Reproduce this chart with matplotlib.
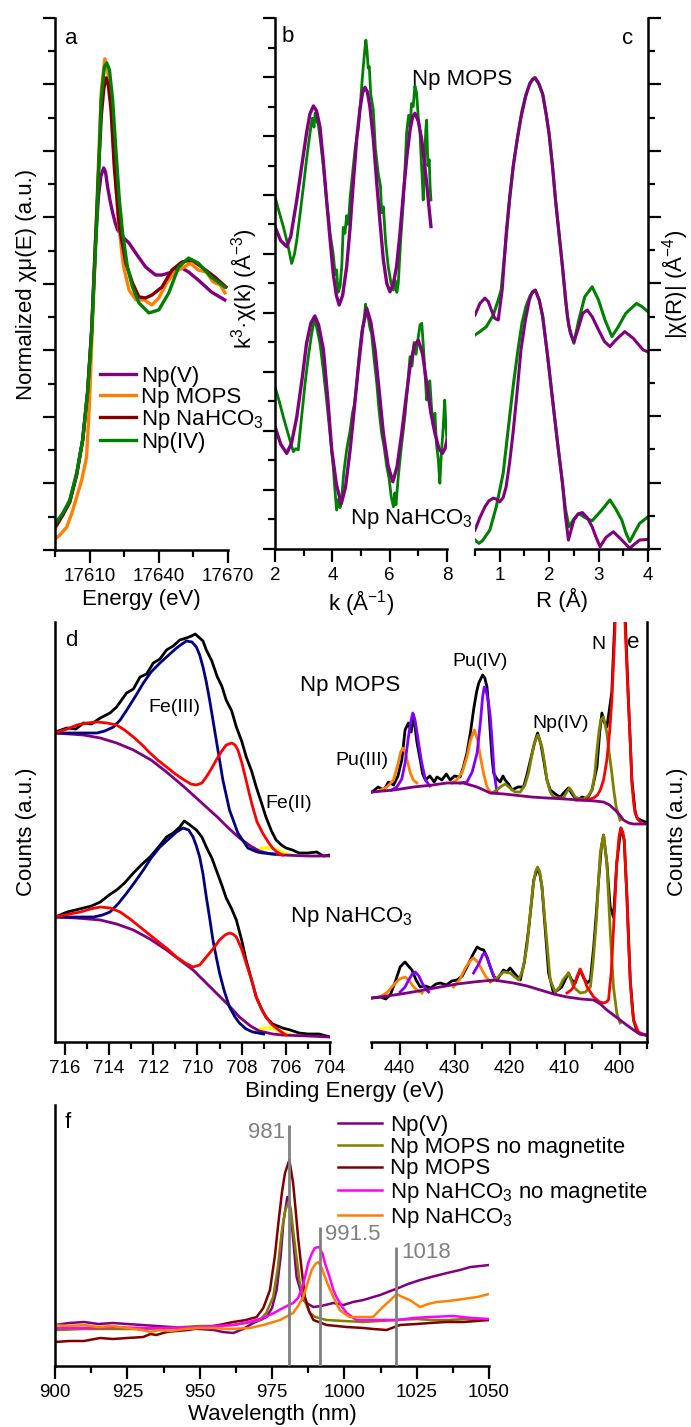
import matplotlib
matplotlib.use('Agg')
import matplotlib.pyplot as plt
from matplotlib.ticker import MultipleLocator

plt.rcParams['font.family'] = ['Liberation Sans', 'DejaVu Sans']
plt.rcParams['mathtext.fontset'] = 'custom'
plt.rcParams['mathtext.rm'] = 'Liberation Sans'
plt.rcParams['mathtext.it'] = 'Liberation Sans:italic'
plt.rcParams['mathtext.default'] = 'regular'
plt.rcParams['font.size'] = 16

W, H = 691, 1427

PURPLE = '#800080'
ORANGE = '#ff8000'
DKRED = '#800000'
GREEN = '#008000'
OLIVE = '#808000'
MAGENTA = '#ff00ff'
NAVY = '#000080'
RED = '#ff0000'
VIOLET = '#8000ff'
YELLOW = '#ffff00'
GRAY = '#808080'

# ---------------- panel a : XANES ----------------
a_npv_E = [17595.0, 17598.4, 17601.4, 17604.4, 17607.0, 17609.1, 17610.9, 17612.6, 17613.9, 17614.9,
           17616.1, 17616.9, 17617.8, 17618.8, 17620.0, 17621.1, 17622.1, 17624.3, 17627.1, 17630.0,
           17634.3, 17638.6, 17641.4, 17645.7, 17650.0, 17652.9, 17657.1, 17662.8, 17668.6]
a_npv = [0.072, 0.108, 0.147, 0.229, 0.331, 0.472, 0.662, 0.933, 1.068, 1.125,
         1.149, 1.137, 1.092, 1.053, 1.014, 0.984, 0.963, 0.942, 0.923, 0.893,
         0.851, 0.827, 0.827, 0.836, 0.848, 0.836, 0.812, 0.776, 0.752]
a_mops_E = [17595.0, 17597.1, 17600.1, 17602.3, 17604.4, 17606.6, 17608.7, 17610.0, 17611.3, 17612.6,
            17613.9, 17615.1, 17616.6, 17617.7, 17619.0, 17620.7, 17622.4, 17624.6, 17627.1, 17630.1,
            17633.6, 17637.0, 17640.0, 17643.4, 17646.9, 17650.3, 17653.7, 17657.1, 17660.6, 17663.6,
            17666.6, 17668.7]
a_mops = [0.033, 0.045, 0.069, 0.111, 0.159, 0.211, 0.280, 0.451, 0.692, 0.933,
          1.173, 1.384, 1.477, 1.450, 1.369, 1.173, 0.993, 0.857, 0.782, 0.752,
          0.752, 0.737, 0.758, 0.803, 0.836, 0.848, 0.863, 0.842, 0.836, 0.806,
          0.797, 0.773]
a_nahco3_E = [17595.0, 17598.4, 17601.4, 17604.4, 17607.0, 17609.1, 17610.9, 17612.6, 17613.9, 17615.1,
              17616.2, 17617.2, 17618.1, 17619.3, 17620.7, 17622.9, 17625.7, 17628.6, 17631.4, 17634.3,
              17637.1, 17641.4, 17645.7, 17650.0, 17654.3, 17658.6, 17664.3, 17669.1]
a_nahco3 = [0.066, 0.105, 0.144, 0.226, 0.331, 0.472, 0.662, 0.933, 1.143, 1.308,
            1.390, 1.420, 1.399, 1.324, 1.152, 0.972, 0.863, 0.803, 0.761, 0.758,
            0.767, 0.791, 0.842, 0.866, 0.872, 0.851, 0.821, 0.791]
a_npiv_E = [17595.0, 17598.4, 17601.4, 17604.4, 17607.0, 17609.1, 17610.9, 17612.9, 17614.0, 17615.0,
            17616.4, 17617.4, 17618.6, 17620.0, 17621.4, 17622.9, 17624.3, 17626.4, 17628.6, 17631.4,
            17635.7, 17640.0, 17644.3, 17648.6, 17652.9, 17657.1, 17662.7, 17668.6]
a_npiv = [0.078, 0.111, 0.150, 0.232, 0.331, 0.472, 0.653, 0.954, 1.152, 1.354,
          1.453, 1.465, 1.444, 1.354, 1.203, 1.053, 0.954, 0.851, 0.791, 0.743,
          0.713, 0.722, 0.773, 0.851, 0.878, 0.863, 0.821, 0.791]
a_labels = ['Np(V)', 'Np MOPS', 'Np NaHCO$_3$', 'Np(IV)']

# ---------------- panel b : k3 chi(k) ----------------
b_mops_fit_k = [2.0, 2.2, 2.41, 2.55, 2.76, 2.95, 3.10, 3.22, 3.34, 3.45, 3.57, 3.68, 3.80, 3.92, 4.03, 4.14,
                4.24, 4.36, 4.50, 4.62, 4.73, 4.85, 4.96, 5.05, 5.14, 5.22, 5.31, 5.43, 5.55, 5.67, 5.78,
                5.90, 6.01, 6.12, 6.24, 6.36, 6.48, 6.60, 6.71, 6.80, 6.88, 7.00, 7.12, 7.20, 7.29, 7.37, 7.44]
b_mops_fit = [10.92, 10.45, 10.25, 10.6, 11.83, 13.1, 14.1, 14.75, 15.02, 14.85, 14.3, 13.2, 11.83, 10.5,
              9.35, 8.6, 8.27, 8.6, 9.57, 10.9, 12.4, 13.9, 14.88, 15.45, 15.65, 15.5, 15.0, 13.9, 12.4,
              11.0, 9.8, 9.0, 8.72, 8.95, 9.57, 10.7, 12.07, 13.3, 14.2, 14.65, 14.77, 14.5, 13.86, 13.2,
              12.4, 11.6, 10.93]
b_mops_dat_k = [2.0, 2.15, 2.29, 2.45, 2.58, 2.68, 2.76, 2.88, 2.99, 3.10, 3.22, 3.30, 3.36, 3.40, 3.46,
                3.51, 3.60, 3.69, 3.80, 3.92, 4.03, 4.10, 4.15, 4.20, 4.27, 4.33, 4.38, 4.44, 4.50, 4.56,
                4.62, 4.73, 4.80, 4.91, 4.98, 5.04, 5.08, 5.13, 5.17, 5.21, 5.25, 5.29, 5.34, 5.43, 5.50,
                5.60, 5.68, 5.72, 5.78, 5.86, 5.95, 6.05, 6.13, 6.20, 6.25, 6.30, 6.38, 6.48, 6.55, 6.59,
                6.66, 6.72, 6.76, 6.82, 6.88, 6.94, 7.00, 7.06, 7.10, 7.14, 7.17, 7.22, 7.26, 7.29, 7.33,
                7.38, 7.41, 7.44]
b_mops_dat = [11.94, 11.4, 10.93, 10.3, 9.68, 10.0, 10.47, 11.4, 12.28, 13.2, 14.1, 14.6, 14.3, 14.78,
              14.5, 14.4, 13.7, 12.96, 11.8, 10.7, 10.0, 9.3, 9.46, 8.7, 8.9, 9.6, 10.9, 10.7, 11.3, 11.0,
              11.9, 12.96, 13.6, 14.3, 15.1, 15.9, 16.35, 16.9, 17.25, 16.9, 16.3, 16.35, 15.4, 14.88,
              13.6, 12.73, 12.3, 11.4, 11.6, 10.4, 9.57, 9.0, 8.78, 9.1, 8.7, 9.0, 10.4, 11.83, 13.2,
              14.1, 14.7, 14.3, 15.1, 15.0, 15.7, 15.45, 14.6, 14.1, 13.2, 12.5, 11.83, 13.3, 14.2,
              14.54, 13.0, 13.2, 12.3, 11.83]
b_nahco3_fit_k = [2.0, 2.2, 2.41, 2.58, 2.76, 2.95, 3.10, 3.25, 3.39, 3.52, 3.69, 3.84, 3.98, 4.14, 4.31,
                  4.46, 4.62, 4.77, 4.91, 5.06, 5.20, 5.34, 5.49, 5.64, 5.78, 5.95, 6.11, 6.26, 6.42, 6.57,
                  6.71, 6.86, 7.00, 7.15, 7.29, 7.44, 7.58, 7.72, 7.84, 7.93, 8.0]
b_nahco3_fit = [4.15, 3.55, 3.24, 3.6, 4.48, 5.8, 6.97, 7.65, 7.9, 7.6, 6.75, 5.1, 3.36, 2.2, 1.53, 2.1,
                3.36, 4.8, 6.18, 7.5, 8.16, 7.7, 6.75, 5.3, 3.92, 2.8, 2.28, 2.8, 3.92, 5.1, 6.18, 6.9,
                7.08, 6.6, 5.62, 4.6, 3.92, 3.4, 3.24, 3.4, 3.69]
b_nahco3_dat_k = [2.0, 2.15, 2.29, 2.40, 2.52, 2.64, 2.72, 2.81, 2.92, 3.05, 3.16, 3.28, 3.34, 3.40, 3.48,
                  3.57, 3.68, 3.80, 3.92, 4.03, 4.09, 4.15, 4.22, 4.27, 4.32, 4.40, 4.50, 4.56, 4.62, 4.70,
                  4.77, 4.85, 4.94, 5.02, 5.10, 5.16, 5.20, 5.26, 5.31, 5.37, 5.45, 5.55, 5.63, 5.72, 5.80,
                  5.90, 5.98, 6.05, 6.13, 6.18, 6.22, 6.30, 6.40, 6.53, 6.62, 6.71, 6.78, 6.85, 6.92, 7.00,
                  7.06, 7.12, 7.18, 7.23, 7.29, 7.35, 7.40, 7.46, 7.52, 7.58, 7.63, 7.70, 7.75, 7.80, 7.86,
                  7.92, 7.96, 8.0]
b_nahco3_dat = [5.5, 5.0, 4.48, 4.1, 3.69, 3.3, 3.4, 3.36, 4.4, 5.62, 6.5, 7.31, 7.6, 7.76, 7.4, 6.97,
                6.1, 5.05, 3.9, 2.79, 2.0, 1.32, 1.7, 1.4, 1.66, 2.6, 3.36, 3.7, 4.0, 4.6, 4.9, 5.62, 6.6,
                7.31, 7.7, 8.3, 8.0, 7.8, 7.5, 7.31, 6.5, 5.62, 4.7, 3.92, 3.5, 2.79, 2.4, 1.8, 1.43, 1.9,
                1.5, 2.45, 3.4, 4.48, 5.5, 6.52, 6.2, 7.0, 6.6, 7.2, 7.6, 7.65, 6.8, 6.0, 5.05, 5.5, 5.7,
                4.8, 4.2, 4.6, 3.58, 3.0, 2.23, 3.2, 4.0, 5.05, 4.2, 3.69]

# ---------------- panel c : |chi(R)| ----------------
c_mops_fit_R = [0.50, 0.60, 0.70, 0.77, 0.83, 0.90, 0.97, 1.05, 1.13, 1.20, 1.27, 1.35, 1.43, 1.52, 1.60,
                1.66, 1.72, 1.80, 1.87, 1.94, 2.0, 2.07, 2.13, 2.20, 2.27, 2.33, 2.37, 2.43, 2.50, 2.58,
                2.68, 2.77, 2.87, 3.0, 3.12, 3.23, 3.35, 3.53, 3.70, 3.90, 4.0]
c_mops_fit = [7.05, 7.4, 7.56, 7.45, 7.2, 6.95, 6.9, 7.8, 9.5, 10.6, 11.5, 12.3, 13.0, 13.6, 14.0, 14.15,
              14.2, 14.0, 13.7, 13.1, 12.5, 11.5, 10.5, 9.5, 8.5, 7.6, 7.0, 6.5, 6.24, 6.6, 7.1, 7.2, 7.0,
              6.6, 6.25, 6.1, 6.3, 6.55, 6.35, 6.0, 5.94]
c_mops_dat_R = [0.50, 0.60, 0.73, 0.87, 0.97, 1.03, 1.12, 1.20, 1.28, 1.37, 1.45, 1.53, 1.62, 1.70, 1.78,
                1.87, 1.94, 2.0, 2.07, 2.13, 2.20, 2.27, 2.33, 2.40, 2.50, 2.60, 2.72, 2.87, 3.0, 3.13,
                3.27, 3.40, 3.55, 3.73, 3.77, 3.88, 4.0]
c_mops_dat = [6.45, 6.55, 6.7, 7.05, 7.5, 7.8, 9.2, 10.5, 11.6, 12.5, 13.2, 13.7, 14.05, 14.2, 14.05,
              13.7, 13.1, 12.5, 11.5, 10.5, 9.5, 8.5, 7.5, 6.7, 6.2, 6.9, 7.6, 7.9, 7.5, 6.9, 6.4, 6.7,
              7.1, 7.35, 7.4, 7.3, 7.15]
c_nahco3_fit_R = [0.50, 0.60, 0.70, 0.78, 0.87, 0.94, 1.0, 1.07, 1.13, 1.20, 1.27, 1.35, 1.43, 1.52, 1.60,
                  1.66, 1.72, 1.80, 1.87, 1.97, 2.07, 2.17, 2.27, 2.33, 2.39, 2.45, 2.50, 2.58, 2.67, 2.77,
                  2.87, 2.95, 3.03, 3.15, 3.30, 3.45, 3.63, 3.73, 3.83, 4.0]
c_nahco3_fit = [0.57, 0.95, 1.27, 1.45, 1.53, 1.5, 1.42, 1.55, 1.88, 2.6, 3.5, 4.7, 6.0, 6.9, 7.5, 7.75,
                7.8, 7.5, 7.0, 5.8, 4.49, 3.2, 1.98, 1.0, 0.27, 0.6, 0.87, 1.05, 1.1, 0.95, 0.67, 0.35,
                0.07, 0.35, 0.52, 0.3, 0.02, 0.15, 0.27, 0.29]
c_nahco3_dat_R = [0.50, 0.58, 0.65, 0.80, 0.93, 1.07, 1.20, 1.28, 1.37, 1.45, 1.53, 1.62, 1.72, 1.80, 1.87,
                  1.97, 2.07, 2.17, 2.27, 2.33, 2.40, 2.50, 2.60, 2.72, 2.87, 3.05, 3.23, 3.35, 3.47, 3.55,
                  3.63, 3.73, 3.83, 4.0]
c_nahco3_dat = [0.27, 0.17, 0.25, 0.57, 1.27, 2.28, 3.98, 5.0, 6.0, 6.8, 7.3, 7.65, 7.8, 7.5, 7.0, 5.8,
                4.49, 3.2, 1.98, 1.2, 0.67, 0.9, 1.07, 0.95, 0.85, 1.15, 1.48, 1.2, 0.87, 0.5, 0.22, 0.5,
                0.77, 0.97]

# ---------------- panel d : Fe 2p XPS ----------------
d_mops_dat_BE = [716.44, 715.91, 715.5, 715.16, 714.8, 714.4, 713.96, 713.66, 713.21, 712.9, 712.6, 712.3,
                 712.0, 711.7, 711.4, 711.1, 710.8, 710.5, 710.27, 710.1, 709.9, 709.75, 709.6, 709.35,
                 709.1, 708.9, 708.7, 708.45, 708.24, 708.0, 707.79, 707.55, 707.34, 707.1, 706.9, 706.65,
                 706.44, 706.2, 705.99, 705.7, 705.4, 705.0, 704.6, 704.3, 704.0]
d_mops_dat = [3.10, 3.14, 3.13, 3.19, 3.18, 3.24, 3.29, 3.35, 3.49, 3.53, 3.65, 3.68, 3.79, 3.83, 3.92,
              3.96, 4.02, 4.04, 4.06, 4.08, 4.04, 4.01, 3.92, 3.81, 3.65, 3.56, 3.42, 3.31, 3.15, 3.01,
              2.85, 2.71, 2.55, 2.39, 2.25, 2.11, 2.02, 1.97, 1.94, 1.92, 1.89, 1.89, 1.90, 1.86, 1.87]
d_mops_bkg_BE = [716.44, 715.16, 714.4, 713.66, 712.9, 712.1, 711.4, 710.6, 709.85, 709.1, 708.6, 708.1,
                 707.6, 707.2, 706.7, 706.15, 705.0, 704.0]
d_mops_bkg = [3.09, 3.07, 3.04, 2.99, 2.92, 2.82, 2.70, 2.55, 2.40, 2.25, 2.14, 2.04, 1.96, 1.91, 1.88,
              1.87, 1.86, 1.86]
d_mops_fe3_BE = [716.44, 715.5, 714.55, 714.2, 713.8, 713.5, 713.2, 712.8, 712.45, 712.1, 711.7, 711.3,
                 710.95, 710.7, 710.5, 710.25, 710.05, 709.9, 709.75, 709.6, 709.45, 709.3, 709.15, 709.0,
                 708.85, 708.55, 708.17, 707.72, 707.3, 707.05, 706.5]
d_mops_fe3 = [3.09, 3.09, 3.09, 3.11, 3.15, 3.22, 3.32, 3.46, 3.59, 3.70, 3.79, 3.87, 3.94, 3.98, 4.01,
              4.0, 3.95, 3.87, 3.75, 3.60, 3.42, 3.22, 3.02, 2.82, 2.62, 2.32, 2.09, 1.94, 1.90, 1.89, 1.88]
d_mops_fe2_BE = [716.44, 715.9, 715.46, 715.0, 714.55, 714.1, 713.66, 713.3, 712.9, 712.5, 712.15, 711.8,
                 711.4, 711.0, 710.6, 710.3, 710.05, 709.8, 709.6, 709.35, 709.15, 708.9, 708.7, 708.45,
                 708.3, 708.17, 708.0, 707.8, 707.65, 707.5, 707.3, 707.05, 706.8, 706.6, 706.4, 706.15]
d_mops_fe2 = [3.09, 3.13, 3.17, 3.19, 3.20, 3.19, 3.17, 3.12, 3.05, 2.97, 2.89, 2.82, 2.75, 2.68, 2.62,
              2.58, 2.57, 2.59, 2.65, 2.74, 2.82, 2.91, 2.97, 2.99, 2.97, 2.92, 2.80, 2.62, 2.48, 2.35,
              2.20, 2.09, 2.00, 1.94, 1.90, 1.87]
d_mops_sat_BE = [707.4, 707.0, 706.6, 706.2, 705.8]
d_mops_sat = [1.92, 1.94, 1.94, 1.90, 1.87]

d_nahco3_dat_BE = [716.44, 715.9, 715.16, 714.8, 714.4, 714.0, 713.66, 713.3, 712.9, 712.5, 712.15, 711.8,
                   711.4, 711.1, 710.8, 710.6, 710.4, 710.05, 709.8, 709.6, 709.35, 709.15, 708.9, 708.7,
                   708.45, 708.24, 708.0, 707.8, 707.55, 707.34, 707.1, 706.9, 706.6, 706.15, 705.8, 705.4,
                   705.0, 704.5, 704.0]
d_nahco3_dat = [1.25, 1.30, 1.34, 1.36, 1.40, 1.47, 1.52, 1.59, 1.69, 1.78, 1.85, 1.94, 2.05, 2.09, 2.15,
                2.21, 2.18, 2.12, 2.05, 1.95, 1.84, 1.72, 1.57, 1.44, 1.33, 1.22, 1.02, 0.82, 0.62, 0.45,
                0.33, 0.25, 0.18, 0.14, 0.12, 0.09, 0.08, 0.08, 0.05]
d_nahco3_bkg_BE = [716.44, 715.5, 714.4, 713.66, 712.9, 712.15, 711.4, 710.8, 710.2, 709.65, 709.15, 708.6,
                   708.1, 707.6, 707.2, 706.6, 706.15, 705.0, 704.0]
d_nahco3_bkg = [1.25, 1.24, 1.22, 1.18, 1.12, 1.03, 0.92, 0.82, 0.72, 0.60, 0.49, 0.37, 0.25, 0.16, 0.11,
                0.08, 0.07, 0.06, 0.05]
d_nahco3_fe3_BE = [716.44, 715.5, 714.7, 714.3, 713.96, 713.6, 713.2, 712.8, 712.45, 712.1, 711.7, 711.3,
                   710.95, 710.65, 710.4, 710.2, 710.05, 709.9, 709.75, 709.6, 709.45, 709.3, 709.15, 709.0,
                   708.8, 708.55, 708.3, 708.1, 707.8, 707.5, 707.0]
d_nahco3_fe3 = [1.25, 1.25, 1.25, 1.27, 1.30, 1.38, 1.49, 1.61, 1.72, 1.84, 1.95, 2.03, 2.10, 2.14, 2.12,
                2.05, 1.96, 1.85, 1.68, 1.45, 1.24, 1.02, 0.85, 0.69, 0.52, 0.35, 0.25, 0.19, 0.13, 0.10,
                0.08]
d_nahco3_fe2_BE = [716.44, 715.8, 715.3, 714.85, 714.4, 713.95, 713.5, 713.05, 712.6, 712.15, 711.7, 711.3,
                   710.95, 710.55, 710.2, 709.9, 709.6, 709.3, 709.0, 708.75, 708.55, 708.4, 708.24, 708.0,
                   707.8, 707.55, 707.34, 707.1, 706.9, 706.65, 706.44, 706.2, 705.99]
d_nahco3_fe2 = [1.25, 1.28, 1.30, 1.33, 1.35, 1.34, 1.30, 1.23, 1.15, 1.07, 0.99, 0.92, 0.85, 0.79, 0.75,
                0.77, 0.85, 0.93, 1.02, 1.07, 1.09, 1.08, 1.05, 0.93, 0.79, 0.62, 0.45, 0.33, 0.25, 0.18,
                0.14, 0.10, 0.07]
d_nahco3_sat_BE = [707.4, 707.0, 706.6, 706.2, 705.8]
d_nahco3_sat = [0.11, 0.14, 0.14, 0.10, 0.07]

# ---------------- panel e : Np 4f / Pu 4f XPS ----------------
e_mops_bkg_BE = [445.0, 441.0, 437.45, 434.0, 431.4, 428.4, 425.9, 423.5, 421.0, 419.3, 416.0, 413.2,
                 410.0, 407.15, 404.5, 402.9, 401.8, 400.8, 399.8, 399.3, 398.3, 397.45, 396.0, 395.3]
e_mops_bkg = [2.50, 2.52, 2.55, 2.57, 2.59, 2.59, 2.55, 2.49, 2.48, 2.47, 2.45, 2.44, 2.43, 2.42, 2.41,
              2.40, 2.37, 2.32, 2.26, 2.22, 2.19, 2.18, 2.18, 2.18]
e_mops_dat_BE = [445.0, 443.9, 442.9, 442.0, 441.1, 440.3, 439.6, 439.0, 438.4, 437.9, 437.45, 436.85,
                 436.25, 435.8, 435.3, 434.5, 433.7, 433.2, 432.3, 431.5, 430.8, 430.0, 429.0, 428.4,
                 427.75, 427.1, 426.55, 426.0, 425.6, 424.9, 424.5, 424.1, 423.8, 423.5, 423.2, 422.9,
                 422.3, 421.7, 421.2, 420.8, 420.2, 419.55, 418.5, 417.45, 416.8, 416.2, 415.5, 414.9,
                 414.3, 413.8, 413.2, 412.6, 411.7, 410.8, 410.0, 409.3, 408.5, 407.75, 406.8, 405.9,
                 405.0, 404.1, 403.6, 403.2, 402.8, 402.3, 401.9, 401.4, 400.8, 399.8, 399.0, 398.4,
                 397.75, 397.15, 396.8, 396.2, 395.3]
e_mops_dat = [2.50, 2.55, 2.52, 2.60, 2.57, 2.66, 2.82, 3.12, 3.19, 3.10, 3.27, 3.00, 2.82, 2.68, 2.62,
              2.66, 2.60, 2.65, 2.62, 2.68, 2.62, 2.66, 2.65, 2.75, 2.89, 3.10, 3.32, 3.50, 3.59, 3.67,
              3.64, 3.55, 3.35, 3.09, 2.85, 2.69, 2.63, 2.60, 2.66, 2.62, 2.58, 2.52, 2.55, 2.55, 2.68,
              2.82, 2.98, 3.09, 2.98, 2.82, 2.62, 2.52, 2.48, 2.45, 2.50, 2.54, 2.47, 2.42, 2.45, 2.43,
              2.52, 2.75, 3.10, 3.29, 3.20, 3.15, 3.30, 3.50, 4.30, 6.00, 4.30, 3.45, 2.62, 2.30, 2.24,
              2.22, 2.20]
e_mops_pu3a_BE = [443.5, 442.3, 441.1, 440.3, 439.8, 439.4, 439.0, 438.5, 438.05, 437.5, 436.85]
e_mops_pu3a = [2.52, 2.55, 2.62, 2.78, 2.90, 2.94, 2.90, 2.79, 2.69, 2.62, 2.59]
e_mops_pu4a_BE = [441.5, 440.5, 439.6, 439.0, 438.4, 437.9, 437.6, 437.2, 436.9, 436.55, 436.0, 435.3, 434.5]
e_mops_pu4a = [2.52, 2.55, 2.63, 2.79, 3.05, 3.22, 3.29, 3.22, 3.12, 2.99, 2.80, 2.62, 2.56]
e_mops_pu3b_BE = [430.5, 429.6, 428.6, 427.75, 427.1, 426.4, 425.8, 425.3, 424.7, 424.1, 423.5]
e_mops_pu3b = [2.59, 2.62, 2.70, 2.85, 3.02, 3.12, 3.02, 2.85, 2.68, 2.55, 2.50]
e_mops_pu4b_BE = [429.0, 427.75, 426.8, 425.9, 425.3, 424.9, 424.6, 424.2, 423.8, 423.5, 423.1, 422.8, 422.3]
e_mops_pu4b = [2.59, 2.60, 2.70, 2.89, 3.20, 3.45, 3.55, 3.50, 3.38, 3.25, 2.95, 2.69, 2.50]
e_mops_np_BE = [423.2, 422.3, 421.7, 420.8, 419.9, 419.0, 418.05, 417.2, 416.55, 416.0, 415.5, 414.85,
                414.1, 413.6, 413.2, 412.6, 412.0, 411.0, 410.2, 409.6, 409.1, 408.6, 408.05, 407.2,
                406.55, 405.7, 405.0, 404.5, 404.1, 403.7, 403.4, 402.9, 402.3, 401.9, 401.4, 401.0,
                400.6, 399.9]
e_mops_np = [2.49, 2.52, 2.55, 2.58, 2.54, 2.50, 2.50, 2.57, 2.69, 2.85, 2.99, 3.07, 2.95, 2.78, 2.62,
             2.50, 2.45, 2.44, 2.44, 2.50, 2.54, 2.50, 2.45, 2.43, 2.43, 2.46, 2.52, 2.68, 2.92, 3.12,
             3.22, 3.25, 3.09, 2.90, 2.69, 2.50, 2.35, 2.22]
e_mops_n_BE = [408.0, 407.15, 406.0, 404.75, 404.0, 403.5, 402.9, 402.3, 401.8, 401.4, 401.0, 400.8,
               400.4, 399.8, 399.3, 399.0, 398.7, 398.4, 398.0, 397.75, 397.45, 397.15, 396.7, 396.2]
e_mops_n = [2.42, 2.42, 2.42, 2.44, 2.47, 2.52, 2.62, 2.82, 3.10, 3.42, 3.90, 4.19, 5.0, 5.6, 5.0, 4.19,
            3.80, 3.42, 2.95, 2.59, 2.40, 2.29, 2.23, 2.20]

e_nahco3_bkg_BE = [445.0, 441.0, 438.65, 435.5, 432.6, 429.5, 426.55, 422.9, 419.3, 416.8, 414.4, 412.0,
                   409.55, 407.0, 404.7, 403.5, 402.3, 401.1, 399.9, 398.7, 397.45, 396.3, 395.3]
e_nahco3_bkg = [0.44, 0.47, 0.49, 0.52, 0.55, 0.58, 0.60, 0.62, 0.59, 0.56, 0.52, 0.48, 0.45, 0.43, 0.42,
                0.38, 0.32, 0.27, 0.22, 0.17, 0.12, 0.08, 0.07]
e_nahco3_dat_BE = [445.0, 443.5, 442.5, 441.7, 440.8, 439.9, 439.4, 439.0, 438.4, 437.75, 437.0, 436.25,
                   435.3, 434.3, 433.4, 432.6, 431.5, 430.5, 429.55, 428.6, 427.75, 426.8, 425.9, 425.3,
                   424.7, 424.1, 423.5, 422.9, 422.3, 421.7, 421.1, 420.5, 419.9, 419.0, 418.05, 417.3,
                   416.55, 416.0, 415.6, 414.9, 414.5, 414.1, 413.5, 412.9, 412.0, 411.2, 410.5, 409.9,
                   409.3, 408.7, 408.05, 407.6, 407.15, 406.5, 405.9, 405.3, 404.7, 404.2, 403.8, 403.3,
                   402.9, 402.3, 401.7, 401.1, 400.5, 399.75, 399.15, 398.65, 398.05, 397.45, 396.8,
                   396.2, 395.3]
e_nahco3_dat = [0.44, 0.45, 0.43, 0.47, 0.60, 0.75, 0.78, 0.80, 0.76, 0.72, 0.62, 0.55, 0.56, 0.54, 0.58,
                0.59, 0.57, 0.61, 0.62, 0.66, 0.75, 0.86, 0.95, 0.93, 0.92, 0.85, 0.75, 0.66, 0.62, 0.67,
                0.72, 0.70, 0.74, 0.68, 0.62, 0.80, 1.12, 1.40, 1.62, 1.74, 1.68, 1.55, 1.12, 0.69, 0.49,
                0.52, 0.55, 0.62, 0.69, 0.62, 0.59, 0.66, 0.72, 0.64, 0.59, 0.62, 0.95, 1.30, 1.62, 1.95,
                2.07, 1.79, 1.35, 1.25, 1.79, 2.14, 2.02, 1.45, 0.62, 0.22, 0.10, 0.08, 0.07]
e_nahco3_pu3a_BE = [443.5, 442.2, 441.1, 440.0, 439.0, 438.2, 437.45, 436.6, 435.9]
e_nahco3_pu3a = [0.45, 0.50, 0.57, 0.63, 0.65, 0.61, 0.55, 0.51, 0.49]
e_nahco3_pu4a_BE = [439.9, 439.0, 438.35, 437.7, 437.15, 436.5, 435.9, 435.3, 434.7]
e_nahco3_pu4a = [0.50, 0.55, 0.62, 0.68, 0.70, 0.66, 0.59, 0.53, 0.50]
e_nahco3_pu3b_BE = [430.2, 429.0, 428.05, 427.2, 426.55, 425.8, 425.0, 424.4, 423.8]
e_nahco3_pu3b = [0.55, 0.63, 0.74, 0.81, 0.84, 0.80, 0.72, 0.66, 0.62]
e_nahco3_pu4b_BE = [426.55, 425.6, 424.9, 424.6, 424.2, 423.5, 422.9, 422.3]
e_nahco3_pu4b = [0.69, 0.78, 0.87, 0.89, 0.86, 0.75, 0.66, 0.62]
e_nahco3_np_BE = [423.5, 422.3, 421.1, 419.9, 418.35, 417.6, 416.85, 416.3, 415.75, 415.3, 414.9, 414.5,
                  414.1, 413.7, 413.3, 412.6, 411.7, 410.9, 410.3, 409.3, 408.35, 407.15, 406.2, 405.3,
                  404.8, 404.2, 403.8, 403.5, 402.9, 402.3, 401.7, 401.1, 400.5, 399.9]
e_nahco3_np = [0.60, 0.64, 0.70, 0.69, 0.62, 0.72, 0.95, 1.25, 1.55, 1.70, 1.75, 1.70, 1.55, 1.30, 1.05,
               0.62, 0.50, 0.55, 0.62, 0.69, 0.55, 0.49, 0.50, 0.55, 0.80, 1.22, 1.62, 1.89, 2.07, 1.79,
               1.12, 0.55, 0.29, 0.19]
e_nahco3_n_BE = [409.55, 408.8, 408.35, 407.7, 407.15, 406.6, 405.9, 404.7, 403.6, 402.9, 402.4, 402.0,
                 401.5, 401.1, 400.8, 400.5, 400.1, 399.75, 399.4, 399.15, 398.9, 398.65, 398.35, 398.05,
                 397.75, 397.45, 396.55, 395.3]
e_nahco3_n = [0.49, 0.52, 0.55, 0.66, 0.73, 0.66, 0.55, 0.45, 0.40, 0.39, 0.40, 0.42, 0.70, 1.12, 1.45,
              1.79, 2.05, 2.14, 2.10, 2.02, 1.75, 1.45, 1.00, 0.62, 0.38, 0.22, 0.10, 0.07]

# ---------------- panel f : vis-NIR ----------------
f_npv_wl = [900, 905, 910, 915, 920, 925, 930, 935, 940, 945, 950, 955, 958, 961.6, 965, 968.5, 971, 973.1,
            975, 976.6, 978, 978.9, 980.3, 981.0, 981.8, 983.5, 985.8, 987.5, 989.3, 992, 996.2, 999.7,
            1003, 1006.6, 1010, 1012.4, 1015, 1018.7, 1022, 1026.2, 1030, 1035.5, 1040, 1043.6, 1047, 1050]
f_npv = [0.41, 0.43, 0.44, 0.42, 0.43, 0.42, 0.41, 0.40, 0.39, 0.38, 0.37, 0.36, 0.34, 0.33, 0.37, 0.43,
         0.46, 0.49, 0.58, 0.76, 1.10, 1.43, 1.69, 1.66, 1.43, 0.89, 0.66, 0.62, 0.59, 0.60, 0.63, 0.61,
         0.64, 0.66, 0.69, 0.71, 0.74, 0.78, 0.82, 0.86, 0.89, 0.93, 0.96, 0.99, 1.00, 1.01]
f_mops_nomag_wl = [900, 910, 920, 930, 940, 944.3, 950, 955, 961.6, 966, 970.8, 973, 975.4, 977, 978.3,
                   979.5, 980.6, 981.5, 982.3, 983.5, 984.6, 986.3, 988.1, 990, 993.8, 1000, 1006.6, 1012,
                   1018.1, 1025, 1030, 1035.5, 1042, 1050]
f_mops_nomag = [0.36, 0.37, 0.37, 0.37, 0.38, 0.39, 0.40, 0.40, 0.41, 0.43, 0.46, 0.53, 0.69, 0.98, 1.33,
                1.55, 1.63, 1.57, 1.36, 1.08, 0.83, 0.65, 0.53, 0.49, 0.46, 0.45, 0.44, 0.45, 0.46, 0.47,
                0.46, 0.46, 0.47, 0.46]
f_mops_wl = [900, 905, 910, 915.6, 920, 925, 930.5, 933, 935, 938.6, 942, 946, 950.1, 955, 961.6, 966,
             969.7, 972, 974.3, 976, 977.2, 978.5, 979.5, 981.0, 982.3, 983.2, 984.1, 985.3, 986.4, 987.8,
             989.3, 993.9, 1000.8, 1006.6, 1010, 1014.6, 1019.2, 1025, 1029.6, 1035, 1041.1, 1050]
f_mops = [0.24, 0.25, 0.25, 0.28, 0.27, 0.28, 0.29, 0.32, 0.31, 0.34, 0.35, 0.36, 0.38, 0.40, 0.44, 0.46,
          0.49, 0.58, 0.76, 1.10, 1.43, 1.75, 1.93, 2.06, 1.83, 1.55, 1.26, 0.95, 0.69, 0.55, 0.46, 0.41,
          0.39, 0.38, 0.37, 0.36, 0.41, 0.42, 0.43, 0.44, 0.44, 0.46]
f_nahco3_nomag_wl = [900, 910, 920, 930, 940, 950, 955, 961.6, 967, 971.9, 975, 978.8, 982.3, 984, 985.2,
                     986.5, 987.5, 988.7, 989.8, 991.3, 992.5, 993.3, 995, 996.2, 997.3, 999, 1000.8,
                     1004.2, 1010, 1018, 1024, 1029.6, 1037.7, 1044, 1050]
f_nahco3_nomag = [0.38, 0.38, 0.39, 0.38, 0.38, 0.39, 0.40, 0.41, 0.44, 0.48, 0.52, 0.58, 0.63, 0.68,
                  0.76, 0.90, 1.03, 1.12, 1.18, 1.19, 1.12, 1.03, 0.88, 0.76, 0.69, 0.60, 0.53, 0.46,
                  0.46, 0.46, 0.48, 0.49, 0.50, 0.48, 0.47]
f_nahco3_wl = [900, 905, 910, 915, 920, 925, 930, 932.9, 936, 940, 945, 950, 955, 960, 967.4, 972, 977.8,
               982.3, 984, 985.8, 987.3, 988.7, 990, 991.0, 992.2, 993.3, 994.8, 996.2, 998.4, 1001.8,
               1006, 1009.9, 1013.3, 1016, 1018.1, 1020, 1022.6, 1026.2, 1029, 1031.9, 1036, 1041.1,
               1046, 1050]
f_nahco3 = [0.41, 0.40, 0.41, 0.39, 0.40, 0.38, 0.36, 0.34, 0.36, 0.35, 0.37, 0.38, 0.38, 0.37, 0.38,
            0.41, 0.46, 0.53, 0.60, 0.69, 0.83, 0.96, 1.02, 1.04, 0.98, 0.89, 0.78, 0.69, 0.56, 0.49,
            0.49, 0.49, 0.59, 0.66, 0.72, 0.69, 0.66, 0.59, 0.62, 0.64, 0.65, 0.67, 0.69, 0.72]
f_labels = ['Np(V)', 'Np MOPS no magnetite', 'Np MOPS', 'Np NaHCO$_3$ no magnetite', 'Np NaHCO$_3$']
f_marks = [981, 991.5, 1018]
f_mark_tops = [2.41, 1.39, 1.19]
f_mark_text = ['981', '991.5', '1018']


def px_axes(fig, x0, y0, x1, y1):
    return fig.add_axes([x0 / W, 1 - y1 / H, (x1 - x0) / W, (y1 - y0) / H])


def px_text(fig, x, y, s, **kw):
    return fig.text(x / W, 1 - y / H, s, **kw)


def style(ax, side='left'):
    for s in ['top', 'right', 'left']:
        ax.spines[s].set_visible(False)
    ax.spines['bottom'].set_linewidth(1.8)
    if side:
        ax.spines[side].set_visible(True)
        ax.spines[side].set_linewidth(1.8)
    ax.tick_params(which='both', direction='out', width=1.6, labelsize=13.5, pad=4)
    ax.tick_params(which='major', length=9)
    ax.tick_params(which='minor', length=5)
    ax.patch.set_alpha(0)


fig = plt.figure(figsize=(W / 100, H / 100), dpi=100)

# ----- a -----
ax = px_axes(fig, 55, 18, 228, 550)
style(ax, 'left')
ax.plot(a_npv_E, a_npv, color=PURPLE, lw=2.4, label=a_labels[0])
ax.plot(a_mops_E, a_mops, color=ORANGE, lw=2.4, label=a_labels[1])
ax.plot(a_nahco3_E, a_nahco3, color=DKRED, lw=2.4, label=a_labels[2])
ax.plot(a_npiv_E, a_npiv, color=GREEN, lw=2.4, label=a_labels[3])
ax.set_xlim(17595, 17670)
ax.set_ylim(0, 1.6)
ax.xaxis.set_minor_locator(MultipleLocator(15))
ax.yaxis.set_major_locator(MultipleLocator(0.2))
ax.yaxis.set_minor_locator(MultipleLocator(0.1))
ax.set_xticks([17610, 17640, 17670])
ax.tick_params(labelleft=False)
ax.legend(loc='upper left', bbox_to_anchor=((100 - 55) / 173, (550 - 366) / 532), frameon=False,
          borderpad=0, borderaxespad=0, handlelength=1.6, handletextpad=0.25, labelspacing=0.0,
          fontsize=16)
ax.set_xlabel('Energy (eV)', fontsize=16, labelpad=3)

# ----- b -----
ax = px_axes(fig, 275, 18, 447, 549)
style(ax, 'left')
ax.plot(b_mops_dat_k, b_mops_dat, color=GREEN, lw=2.0)
ax.plot(b_mops_fit_k, b_mops_fit, color=PURPLE, lw=2.4)
ax.plot(b_nahco3_dat_k, b_nahco3_dat, color=GREEN, lw=2.0)
ax.plot(b_nahco3_fit_k, b_nahco3_fit, color=PURPLE, lw=2.4)
ax.set_xlim(2, 8)
ax.set_ylim(0, 18)
ax.xaxis.set_major_locator(MultipleLocator(2))
ax.xaxis.set_minor_locator(MultipleLocator(1))
ax.yaxis.set_major_locator(MultipleLocator(2))
ax.yaxis.set_minor_locator(MultipleLocator(1))
ax.tick_params(labelleft=False)
ax.set_xlabel('k (Å$^{-1}$)', fontsize=16, labelpad=3)

# ----- c -----
ax = px_axes(fig, 475, 18, 648, 549)
style(ax, 'right')
ax.yaxis.tick_right()
ax.plot(c_mops_dat_R, c_mops_dat, color=GREEN, lw=2.2)
ax.plot(c_mops_fit_R, c_mops_fit, color=PURPLE, lw=2.2)
ax.plot(c_nahco3_dat_R, c_nahco3_dat, color=GREEN, lw=2.2)
ax.plot(c_nahco3_fit_R, c_nahco3_fit, color=PURPLE, lw=2.2)
ax.set_xlim(0.5, 4)
ax.set_ylim(0, 16)
ax.xaxis.set_major_locator(MultipleLocator(1))
ax.xaxis.set_minor_locator(MultipleLocator(0.5))
ax.yaxis.set_major_locator(MultipleLocator(2))
ax.yaxis.set_minor_locator(MultipleLocator(1))
ax.tick_params(labelright=False, labelleft=False)
ax.set_xlabel('R (Å)', fontsize=16, labelpad=3)

# ----- d -----
ax = px_axes(fig, 55, 622, 330, 1042)
style(ax, 'left')
ax.set_yticks([])
for BE, v, c, lw in [
        (d_mops_sat_BE, d_mops_sat, YELLOW, 2.4),
        (d_mops_dat_BE, d_mops_dat, 'black', 2.0),
        (d_mops_bkg_BE, d_mops_bkg, PURPLE, 2.0),
        (d_mops_fe3_BE, d_mops_fe3, NAVY, 2.0),
        (d_mops_fe2_BE, d_mops_fe2, RED, 2.0),
        (d_nahco3_sat_BE, d_nahco3_sat, YELLOW, 2.4),
        (d_nahco3_dat_BE, d_nahco3_dat, 'black', 2.0),
        (d_nahco3_bkg_BE, d_nahco3_bkg, PURPLE, 2.0),
        (d_nahco3_fe3_BE, d_nahco3_fe3, NAVY, 2.0),
        (d_nahco3_fe2_BE, d_nahco3_fe2, RED, 2.0)]:
    ax.plot(BE, v, color=c, lw=lw)
ax.set_xlim(716.45, 704)
ax.set_ylim(0, 4.2)
ax.xaxis.set_major_locator(MultipleLocator(2))
ax.xaxis.set_minor_locator(MultipleLocator(1))

# ----- e -----
ax = px_axes(fig, 371, 622, 647, 1042)
style(ax, 'right')
ax.set_yticks([])
for BE, v, c in [
        (e_mops_dat_BE, e_mops_dat, 'black'),
        (e_mops_pu3a_BE, e_mops_pu3a, ORANGE),
        (e_mops_pu4a_BE, e_mops_pu4a, VIOLET),
        (e_mops_pu3b_BE, e_mops_pu3b, ORANGE),
        (e_mops_pu4b_BE, e_mops_pu4b, VIOLET),
        (e_mops_np_BE, e_mops_np, OLIVE),
        (e_mops_n_BE, e_mops_n, RED),
        (e_mops_bkg_BE, e_mops_bkg, PURPLE),
        (e_nahco3_dat_BE, e_nahco3_dat, 'black'),
        (e_nahco3_pu3a_BE, e_nahco3_pu3a, ORANGE),
        (e_nahco3_pu4a_BE, e_nahco3_pu4a, VIOLET),
        (e_nahco3_pu3b_BE, e_nahco3_pu3b, ORANGE),
        (e_nahco3_pu4b_BE, e_nahco3_pu4b, VIOLET),
        (e_nahco3_np_BE, e_nahco3_np, OLIVE),
        (e_nahco3_n_BE, e_nahco3_n, RED),
        (e_nahco3_bkg_BE, e_nahco3_bkg, PURPLE)]:
    ax.plot(BE, v, color=c, lw=2.0)
ax.set_xlim(445.2, 395)
ax.set_ylim(0, 4.2)
ax.xaxis.set_major_locator(MultipleLocator(10))
ax.xaxis.set_minor_locator(MultipleLocator(5))

# ----- f -----
ax = px_axes(fig, 55, 1105, 489, 1366)
style(ax, 'left')
ax.set_yticks([])
ax.plot(f_npv_wl, f_npv, color=PURPLE, lw=1.8, label=f_labels[0])
ax.plot(f_mops_nomag_wl, f_mops_nomag, color=OLIVE, lw=1.8, label=f_labels[1])
ax.plot(f_mops_wl, f_mops, color=DKRED, lw=1.8, label=f_labels[2])
ax.plot(f_nahco3_nomag_wl, f_nahco3_nomag, color=MAGENTA, lw=1.8, label=f_labels[3])
ax.plot(f_nahco3_wl, f_nahco3, color=ORANGE, lw=1.8, label=f_labels[4])
ax.vlines(f_marks, 0, f_mark_tops, color=GRAY, lw=2.0, zorder=5)
ax.set_xlim(900, 1050)
ax.set_ylim(0, 2.61)
ax.xaxis.set_major_locator(MultipleLocator(25))
ax.xaxis.set_minor_locator(MultipleLocator(12.5))
ax.legend(loc='upper left', bbox_to_anchor=((338 - 55) / 434, (1366 - 1115) / 261), frameon=False,
          borderpad=0, borderaxespad=0, handlelength=2.0, handletextpad=0.35, labelspacing=0.03,
          fontsize=16)
ax.text(f_marks[0] - 1.5, f_mark_tops[0] - 0.07, f_mark_text[0], color=GRAY, fontsize=16,
        ha='right', va='center')
ax.text(f_marks[1] + 1.8, f_mark_tops[1] - 0.08, f_mark_text[1], color=GRAY, fontsize=16,
        ha='left', va='center')
ax.text(f_marks[2] + 1.8, f_mark_tops[2] - 0.06, f_mark_text[2], color=GRAY, fontsize=16,
        ha='left', va='center')
ax.set_xlabel('Wavelength (nm)', fontsize=16, labelpad=2)

# ----- free text -----
px_text(fig, 27, 284, 'Normalized χμ(E) (a.u.)', rotation=90, ha='center', va='center')
px_text(fig, 244, 289, 'k$^3$·χ(k) (Å$^{-3}$)', rotation=90, ha='center', va='center')
px_text(fig, 675, 284, '|χ(R)| (Å$^{-4}$)', rotation=90, ha='center', va='center')
px_text(fig, 27, 832, 'Counts (a.u.)', rotation=90, ha='center', va='center')
px_text(fig, 677, 832, 'Counts (a.u.)', rotation=90, ha='center', va='center')
px_text(fig, 345, 1092, 'Binding Energy (eV)', ha='center', va='center')

px_text(fig, 71, 38, 'a', ha='center', va='center')
px_text(fig, 288, 37, 'b', ha='center', va='center')
px_text(fig, 628, 38, 'c', ha='center', va='center')
px_text(fig, 71, 641, 'd', ha='center', va='center')
px_text(fig, 633, 642, 'e', ha='center', va='center')
px_text(fig, 68, 1122, 'f', ha='center', va='center')

px_text(fig, 412, 80, 'Np MOPS', ha='left', va='center')
px_text(fig, 350, 519, 'Np NaHCO$_3$', ha='left', va='center')
px_text(fig, 300, 685, 'Np MOPS', ha='left', va='center')
px_text(fig, 290, 917, 'Np NaHCO$_3$', ha='left', va='center')
px_text(fig, 174, 707, 'Fe(III)', ha='center', va='center', fontsize=14)
px_text(fig, 289, 803, 'Fe(II)', ha='center', va='center', fontsize=14)
px_text(fig, 362, 760, 'Pu(III)', ha='center', va='center', fontsize=14)
px_text(fig, 480, 661, 'Pu(IV)', ha='center', va='center', fontsize=14)
px_text(fig, 561, 723, 'Np(IV)', ha='center', va='center', fontsize=14)
px_text(fig, 598, 644, 'N', ha='center', va='center', fontsize=14)

fig.savefig('out.png', dpi=100)
